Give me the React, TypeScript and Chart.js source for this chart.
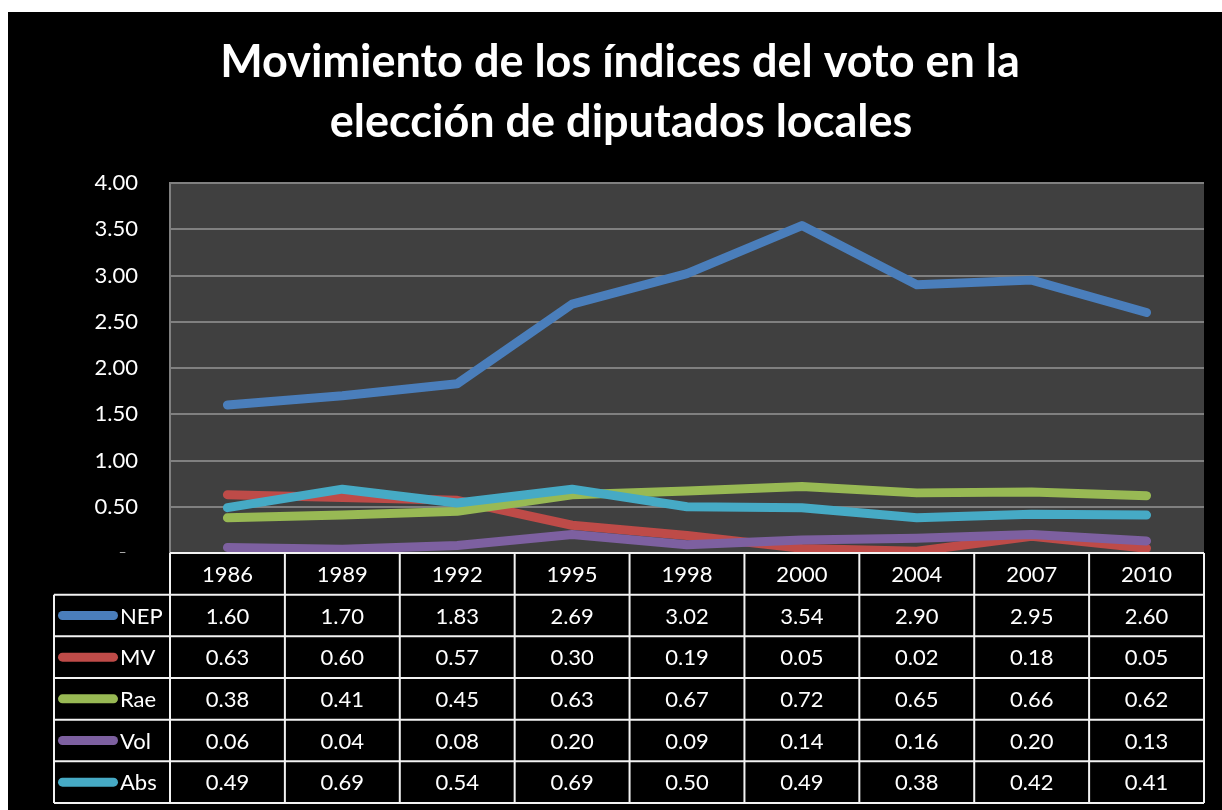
import React, { useEffect, useRef } from "react";
import { Chart, registerables } from "chart.js";

Chart.register(...registerables);

const titleLines = ["Movimiento de los índices del voto en la", "elección de diputados locales"];
const years = ["1986", "1989", "1992", "1995", "1998", "2000", "2004", "2007", "2010"];
const seriesNames = ["NEP", "MV", "Rae", "Vol", "Abs"];
const NEP = [1.6, 1.7, 1.83, 2.69, 3.02, 3.54, 2.9, 2.95, 2.6];
const MV = [0.63, 0.6, 0.57, 0.3, 0.19, 0.05, 0.02, 0.18, 0.05];
const Rae = [0.38, 0.41, 0.45, 0.63, 0.67, 0.72, 0.65, 0.66, 0.62];
const Vol = [0.06, 0.04, 0.08, 0.2, 0.09, 0.14, 0.16, 0.2, 0.13];
const Abs = [0.49, 0.69, 0.54, 0.69, 0.5, 0.49, 0.38, 0.42, 0.41];
const seriesValues = [NEP, MV, Rae, Vol, Abs];
const seriesColors = ["#4A7EBB", "#BE4B48", "#98B954", "#7D60A0", "#46AAC5"];
const yMin = 0;
const yMax = 4;
const yStep = 0.5;

const FONT = "Lato, 'Open Sans', sans-serif";

const tablePlugin = {
  id: "excelLook",
  beforeDraw(chart: any) {
    const { ctx, chartArea: a } = chart;
    ctx.save();
    ctx.fillStyle = "#000";
    ctx.fillRect(0, 0, chart.width, chart.height);
    ctx.fillStyle = "#404040";
    ctx.fillRect(a.left, a.top, a.right - a.left, a.bottom - a.top);
    ctx.restore();
  },
  afterDraw(chart: any) {
    const { ctx, chartArea: a } = chart;
    const x = chart.scales.x;
    ctx.save();
    // title
    ctx.fillStyle = "#fff";
    ctx.font = `bold 45px ${FONT}`;
    ctx.textAlign = "center";
    ctx.textBaseline = "alphabetic";
    ctx.fillText(titleLines[0], 612, 65);
    ctx.fillText(titleLines[1], 613, 125);

    // table
    const rowH = 250 / 6;
    const top = a.bottom;
    const colW = (a.right - a.left) / years.length;
    const legendLeft = 46;
    const bottom = top + rowH * 6;
    ctx.fillStyle = "#000";
    ctx.fillRect(0, top, chart.width, chart.height - top);

    ctx.font = `22px ${FONT}`;
    ctx.textBaseline = "middle";
    ctx.fillStyle = "#fff";
    ctx.textAlign = "center";
    years.forEach((y, i) => {
      ctx.fillText(y, x.getPixelForValue(i), top + rowH / 2 + 1);
    });
    seriesNames.forEach((name, r) => {
      const cy = top + rowH * (r + 1) + rowH / 2;
      ctx.strokeStyle = seriesColors[r];
      ctx.lineWidth = 9;
      ctx.lineCap = "round";
      ctx.beginPath();
      ctx.moveTo(54.5, cy);
      ctx.lineTo(105.5, cy);
      ctx.stroke();
      ctx.fillStyle = "#fff";
      ctx.textAlign = "left";
      ctx.fillText(name, 112, cy + 1);
      ctx.textAlign = "center";
      seriesValues[r].forEach((v, i) => {
        ctx.fillText(v.toFixed(2), x.getPixelForValue(i), cy + 1);
      });
    });

    ctx.strokeStyle = "#f2f2f2";
    ctx.lineWidth = 2;
    ctx.lineCap = "butt";
    ctx.beginPath();
    ctx.moveTo(a.left, top);
    ctx.lineTo(a.right, top);
    for (let r = 1; r <= 6; r++) {
      const yy = top + rowH * r;
      ctx.moveTo(legendLeft, yy);
      ctx.lineTo(a.right, yy);
    }
    for (let c = 0; c <= years.length; c++) {
      const xx = a.left + colW * c;
      ctx.moveTo(xx, top);
      ctx.lineTo(xx, bottom);
    }
    ctx.moveTo(legendLeft, top + rowH);
    ctx.lineTo(legendLeft, bottom);
    ctx.stroke();
    ctx.restore();
  },
};

export default function App() {
  const ref = useRef<HTMLCanvasElement | null>(null);
  useEffect(() => {
    if (!ref.current) return;
    const chart = new Chart(ref.current, {
      type: "line",
      data: {
        labels: years,
        datasets: seriesNames.map((name, i) => ({
          label: name,
          data: seriesValues[i],
          borderColor: seriesColors[i],
          backgroundColor: seriesColors[i],
          borderWidth: 9,
          borderCapStyle: "round",
          borderJoinStyle: "round",
          pointRadius: 0,
          tension: 0,
          fill: false,
          order: seriesNames.length - i,
        })),
      },
      options: {
        responsive: false,
        animation: false,
        events: [],
        layout: { padding: { top: 171, bottom: 257, left: 0, right: 18 } },
        plugins: {
          legend: { display: false },
          title: { display: false },
          tooltip: { enabled: false },
        },
        scales: {
          x: { type: "category", offset: true, display: false },
          y: {
            min: yMin,
            max: yMax,
            afterFit(scale: any) {
              scale.width = 162;
            },
            ticks: {
              stepSize: yStep,
              color: "#fff",
              padding: 32,
              font: { family: FONT, size: 22 },
              callback: (v: any) => (Number(v) === 0 ? "-  " : Number(v).toFixed(2)),
            },
            grid: { color: "#808080", lineWidth: 2, drawTicks: false },
            border: { color: "#808080", width: 2 },
          },
        },
      },
      plugins: [tablePlugin],
    } as any);
    return () => chart.destroy();
  }, []);
  return (
    <div style={{ position: "absolute", left: 8, top: 12, width: 1214, height: 798, background: "#000" }}>
      <canvas ref={ref} width={1214} height={798} />
    </div>
  );
}
